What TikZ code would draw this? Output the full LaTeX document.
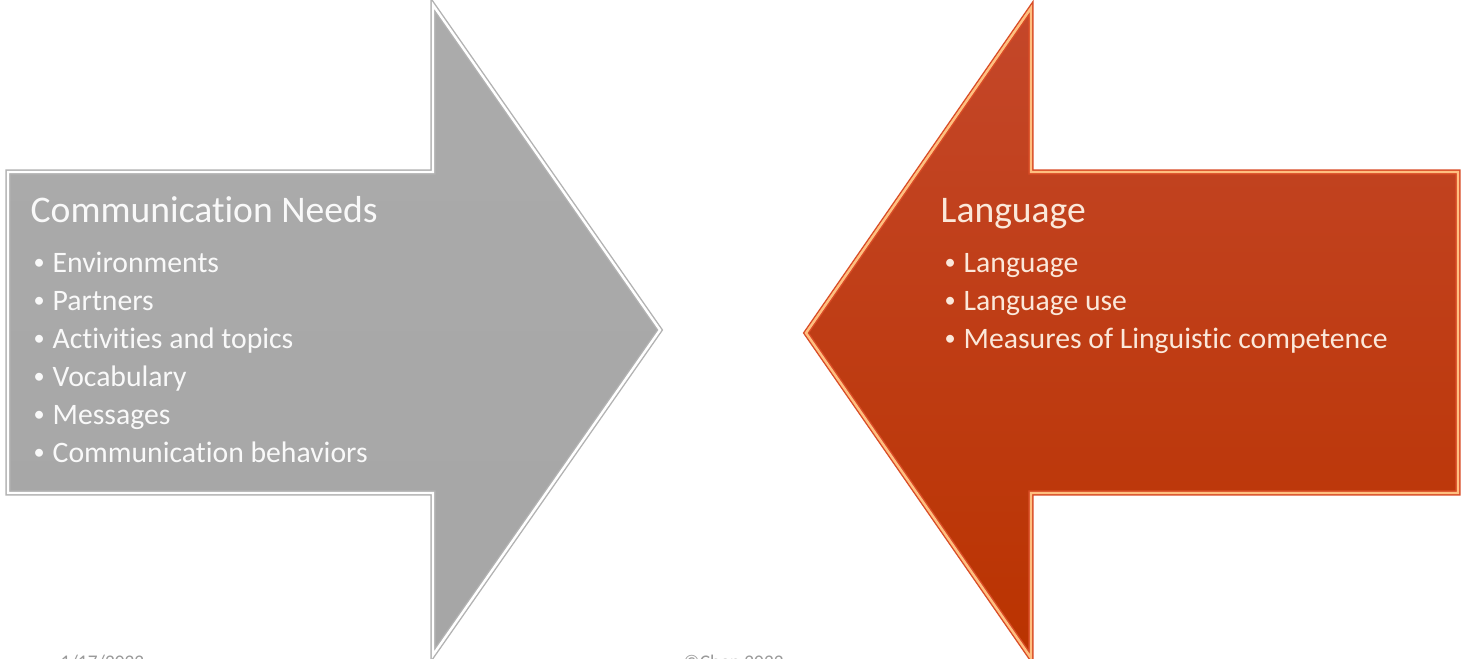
\documentclass[tikz,border=0pt]{standalone}
\usepackage{fontspec}
\setmainfont{Carlito}[Ligatures=NoCommon]
\usepackage{tikz}
\usetikzlibrary{calc,positioning}

\definecolor{needsgray}{HTML}{A6A6A6}
\definecolor{needsgraytop}{HTML}{ABABAB}
\definecolor{langredtop}{HTML}{C4472A}
\definecolor{langredbot}{HTML}{BA3300}
\definecolor{langtext}{HTML}{FBE8DA}
\definecolor{footgray}{HTML}{9A9A9A}

\newcommand{\bul}{\makebox[0.21cm][l]{\hspace{0.02cm}\raisebox{0.25ex}{\scalebox{0.75}{•}}}}

\begin{document}
\begin{tikzpicture}[
  grayarrow/.style={top color=needsgraytop, bottom color=needsgray,
                    draw=gray!60, double=white, double distance=0.7pt, line join=miter},
  redarrow/.style={top color=langredtop, bottom color=langredbot,
                   draw=red!40!brown, double=orange!50!white, double distance=0.7pt, line join=miter},
  title/.style={anchor=base west, inner sep=0pt, font=\fontsize{10.7}{12}\selectfont},
  item/.style={anchor=base west, inner sep=0pt, font=\fontsize{8.45}{10}\selectfont},
  foot/.style={anchor=base west, inner sep=0pt, text=footgray, font=\fontsize{5.5}{7}\selectfont},
]
\useasboundingbox (0,0) rectangle (14.66,6.59);

% left arrow: communication needs
\path[grayarrow] (0.08,4.87) -- (4.33,4.87) -- (4.33,6.54) -- (6.60,3.29)
  -- (4.33,0.04) -- (4.33,1.66) -- (0.08,1.66) -- cycle;

% right arrow: language
\path[redarrow] (14.58,4.87) -- (10.31,4.87) -- (10.31,6.51) -- (8.06,3.26)
  -- (10.31,0.01) -- (10.31,1.66) -- (14.58,1.66) -- cycle;

\node[title, text=white!95!gray] (needs) at (0.30,4.36) {Communication Needs};
\node[item, text=white!95!gray] (env) at (0.31,3.86) {\bul Environments};
\node[item, text=white!95!gray] (partners) at (0.31,3.48) {\bul Partners};
\node[item, text=white!95!gray] (topics) at (0.31,3.10) {\bul Activities and topics};
\node[item, text=white!95!gray] (vocab) at (0.31,2.72) {\bul Vocabulary};
\node[item, text=white!95!gray] (msgs) at (0.31,2.34) {\bul Messages};
\node[item, text=white!95!gray] (behav) at (0.31,1.96) {\bul Communication behaviors};

\node[title, text=langtext] (lang) at (9.40,4.36) {Language};
\node[item, text=langtext] (langitem) at (9.42,3.86) {\bul Language};
\node[item, text=langtext] (languse) at (9.42,3.48) {\bul Language use};
\node[item, text=langtext] (measures) at (9.42,3.10) {\bul Measures of Linguistic competence};

\node[foot] (date) at (0.60,-0.10) {1/17/2022};
\node[foot] (copy) at (6.83,-0.10) {©Chen 2022};
\end{tikzpicture}
\end{document}
